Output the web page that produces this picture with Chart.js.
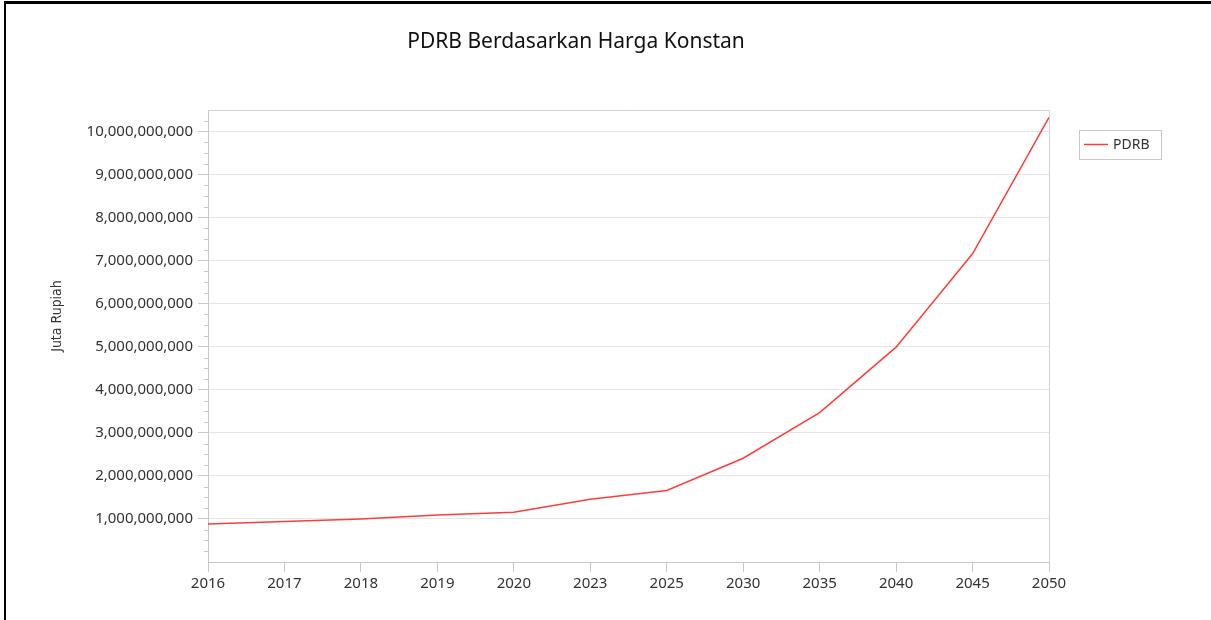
<!DOCTYPE html>
<html>
<head>
<meta charset="utf-8">
<title>PDRB Berdasarkan Harga Konstan</title>
<script src="https://cdn.jsdelivr.net/npm/chart.js@4.4.1/dist/chart.umd.min.js"></script>
<style>
  html, body { margin: 0; padding: 0; background: #fff; }
  #wrap { position: relative; width: 1211px; height: 620px; }
</style>
</head>
<body>
<div id="wrap"><canvas id="pdrb-chart" width="1211" height="620"></canvas></div>
<script>
var years = ["2016", "2017", "2018", "2019", "2020", "2023", "2025", "2030", "2035", "2040", "2045", "2050"];
var pdrbValues = [
  884000000, 940000000, 1000000000, 1090000000, 1156000000, 1460000000,
  1660000000, 2410000000, 3470000000, 4990000000, 7160000000, 10330000000
];
var yTicks = [
  1000000000, 2000000000, 3000000000, 4000000000, 5000000000,
  6000000000, 7000000000, 8000000000, 9000000000, 10000000000
];
var chartTitle = "PDRB Berdasarkan Harga Konstan";
var yAxisTitle = "Juta Rupiah";
var seriesName = "PDRB";
var yMin = 0;
var yMax = 10500000000;
var yStep = 1000000000;

(function () {
  var FONT = "'Noto Sans', 'Open Sans', 'DejaVu Sans', sans-serif";
  var NARROW = "'Liberation Sans Narrow', 'DejaVu Sans Condensed', 'Roboto', sans-serif";
  var LINE = "#ff3c3c";
  var AXIS = "#c8c8c8";
  var GRID = "#e6e6e6";
  var TEXT = "#333333";

  // frame, plot box, minor ticks, title, axis title and legend
  var decor = {
    id: "decor",
    afterDraw: function (chart) {
      var ctx = chart.ctx;
      var area = chart.chartArea;
      var y = chart.scales.y;
      ctx.save();

      ctx.fillStyle = "#000";
      ctx.fillRect(4, 1, 2, 619);
      ctx.fillRect(4, 1, 1207, 3);

      ctx.strokeStyle = "#d2d2d2";
      ctx.lineWidth = 1;
      ctx.beginPath();
      ctx.moveTo(area.left, area.top + 0.5);
      ctx.lineTo(area.right + 0.5, area.top + 0.5);
      ctx.lineTo(area.right + 0.5, area.bottom);
      ctx.stroke();

      // minor ticks, four per major step
      ctx.strokeStyle = AXIS;
      ctx.beginPath();
      for (var i = 1; i * yStep / 4 < yMax; i++) {
        if (i % 4 === 0) continue;
        var py = Math.round(y.getPixelForValue(i * yStep / 4)) + 0.5;
        ctx.moveTo(area.left - 4, py);
        ctx.lineTo(area.left, py);
      }
      ctx.stroke();

      ctx.fillStyle = "#111";
      ctx.font = "21px " + FONT;
      ctx.textAlign = "center";
      ctx.textBaseline = "middle";
      ctx.fillText(chartTitle, 576, 42);

      ctx.save();
      ctx.translate(57, 316);
      ctx.rotate(-Math.PI / 2);
      ctx.fillStyle = TEXT;
      ctx.font = "14px " + NARROW;
      ctx.fillText(yAxisTitle, 0, 0);
      ctx.restore();

      ctx.strokeStyle = AXIS;
      ctx.strokeRect(1079.5, 130.5, 82, 29);
      ctx.strokeStyle = LINE;
      ctx.lineWidth = 1.5;
      ctx.beginPath();
      ctx.moveTo(1084, 144.5);
      ctx.lineTo(1108, 144.5);
      ctx.stroke();
      ctx.fillStyle = TEXT;
      ctx.font = "14px " + FONT;
      ctx.textAlign = "left";
      ctx.fillText(seriesName, 1113, 145);

      ctx.restore();
    },
  };

  new Chart(document.getElementById("pdrb-chart"), {
    type: "line",
    data: {
      labels: years,
      datasets: [
        {
          label: seriesName,
          data: pdrbValues,
          borderColor: LINE,
          borderWidth: 1.5,
          pointRadius: 0,
          tension: 0,
          fill: false,
        },
      ],
    },
    options: {
      responsive: false,
      animation: false,
      layout: { padding: { top: 110, right: 162, bottom: 0, left: 0 } },
      plugins: {
        legend: { display: false },
        title: { display: false },
        tooltip: { enabled: false },
      },
      scales: {
        x: {
          offset: false,
          grid: {
            drawOnChartArea: false,
            color: AXIS,
            tickLength: 10,
          },
          border: { color: AXIS },
          ticks: {
            color: TEXT,
            padding: 3,
            maxRotation: 0,
            autoSkip: false,
            font: { family: FONT, size: 15 },
          },
          afterFit: function (s) {
            s.height = 58;
          },
        },
        y: {
          min: yMin,
          max: yMax,
          grid: {
            color: GRID,
            tickColor: AXIS,
            tickLength: 10,
          },
          border: { color: AXIS },
          ticks: {
            color: TEXT,
            padding: 5,
            autoSkip: false,
            font: { family: FONT, size: 15 },
            callback: function (v) {
              return Number(v).toLocaleString("en-US");
            },
          },
          afterBuildTicks: function (s) {
            s.ticks = yTicks.map(function (v) {
              return { value: v };
            });
          },
          afterFit: function (s) {
            s.width = 208;
          },
        },
      },
    },
    plugins: [decor],
  });
})();
</script>
</body>
</html>
